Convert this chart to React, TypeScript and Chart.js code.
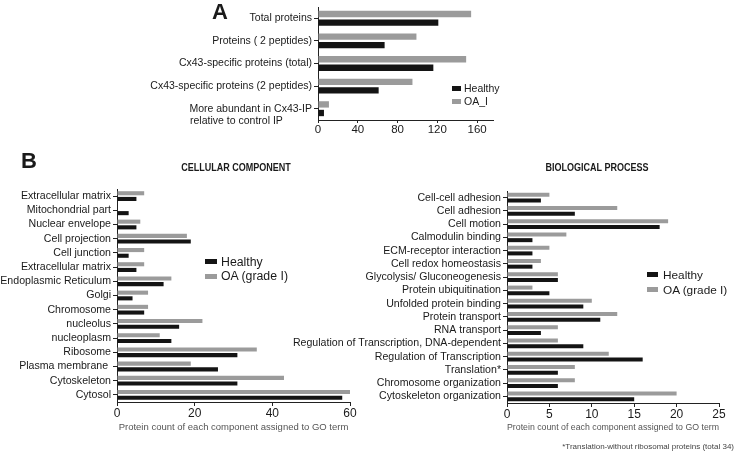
import React, { useEffect, useRef } from 'react';
import { Chart, registerables } from 'chart.js';

Chart.register(...registerables);

const FONT = '"Liberation Sans", Arial, Helvetica, sans-serif';
const BLACK = '#141414';
const GRAY = '#9b9b9b';
const TEXT = '#1a1a1a';

// ---- Panel A ----
const aCategories: (string | string[])[] = [
  'Total proteins',
  'Proteins ( 2 peptides)',
  'Cx43-specific proteins (total)',
  'Cx43-specific proteins (2 peptides)',
  ['', 'More abundant in Cx43-IP', 'relative to control IP          '],
];
const aHealthy = [121, 67, 116, 61, 6];
const aOA = [154, 99, 149, 95, 11];
const aSeriesNames = ['Healthy', 'OA_I'];

// ---- Panel B: cellular component ----
const ccCategories = [
  'Extracellular matrix',
  'Mitochondrial part',
  'Nuclear envelope',
  'Cell projection',
  'Cell junction',
  'Extracellular matrix',
  'Endoplasmic Reticulum',
  'Golgi',
  'Chromosome',
  'nucleolus',
  'nucleoplasm',
  'Ribosome',
  'Plasma membrane ',
  'Cytoskeleton',
  'Cytosol',
];
const ccHealthy = [5, 3, 5, 19, 3, 5, 12, 4, 7, 16, 14, 31, 26, 31, 58];
const ccOA = [7, 0, 6, 18, 7, 7, 14, 8, 8, 22, 11, 36, 19, 43, 60];

// ---- Panel B: biological process ----
const bpCategories = [
  'Cell-cell adhesion',
  'Cell adhesion',
  'Cell motion',
  'Calmodulin binding',
  'ECM-receptor interaction',
  'Cell redox homeostasis',
  'Glycolysis/ Gluconeogenesis',
  'Protein ubiquitination',
  'Unfolded protein binding',
  'Protein transport',
  'RNA transport',
  'Regulation of Transcription, DNA-dependent',
  'Regulation of Transcription',
  'Translation*',
  'Chromosome organization',
  'Cytoskeleton organization',
];
const bpHealthy = [4, 8, 18, 3, 3, 3, 6, 5, 9, 11, 4, 9, 16, 6, 6, 15];
const bpOA = [5, 13, 19, 7, 5, 4, 6, 3, 10, 13, 6, 6, 12, 8, 8, 20];

const bSeriesNames = ['Healthy', 'OA (grade I)'];
const bAxisTitle = 'Protein count of each component assigned to GO term';
const footnote = '*Translation-without ribosomal proteins (total 34)';

type HBarProps = {
  left: number;
  top: number;
  width: number;
  height: number;
  labels: (string | string[])[];
  healthy: number[];
  oa: number[];
  names: string[];
  yWidth: number;
  xHeight: number;
  padTop: number;
  padRight: number;
  xMax: number;
  xStep: number;
  catPct: number;
  barPct: number;
  labelSize: number;
  tickSize: number;
  xTickLen: number;
  xTitle?: string;
};

function HBar(p: HBarProps) {
  const ref = useRef<HTMLCanvasElement | null>(null);
  useEffect(() => {
    if (!ref.current) return;
    const chart = new Chart(ref.current, {
      type: 'bar',
      data: {
        labels: p.labels,
        datasets: [
          {
            label: p.names[1],
            data: p.oa,
            backgroundColor: GRAY,
            categoryPercentage: p.catPct,
            barPercentage: p.barPct,
          },
          {
            label: p.names[0],
            data: p.healthy,
            backgroundColor: BLACK,
            categoryPercentage: p.catPct,
            barPercentage: p.barPct,
          },
        ],
      },
      options: {
        indexAxis: 'y',
        responsive: false,
        animation: false,
        layout: { padding: { top: p.padTop, right: p.padRight, left: 0, bottom: 0 } },
        plugins: { legend: { display: false }, tooltip: { enabled: false }, title: { display: false } },
        scales: {
          y: {
            type: 'category',
            grid: { display: true, drawOnChartArea: false, drawTicks: true, tickLength: 4, color: '#222', offset: false },
            border: { display: true, color: '#222', width: 1 },
            ticks: { autoSkip: false, padding: 2, color: TEXT, font: { family: FONT, size: p.labelSize } },
            afterFit: (s: any) => {
              s.width = p.yWidth;
              s.paddingTop = 0;
              s.paddingBottom = 0;
            },
          },
          x: {
            type: 'linear',
            min: 0,
            max: p.xMax,
            grid: { display: true, drawOnChartArea: false, drawTicks: true, tickLength: p.xTickLen, color: '#222' },
            border: { display: true, color: '#222', width: 1 },
            ticks: { stepSize: p.xStep, includeBounds: false, padding: 0, color: TEXT, font: { family: FONT, size: p.tickSize } },
            title: p.xTitle
              ? { display: true, text: p.xTitle, color: '#555', font: { family: FONT, size: 9.5 }, padding: { top: 0, bottom: 7 } }
              : { display: false },
            afterFit: (s: any) => {
              s.height = p.xHeight;
              s.paddingLeft = 0;
              s.paddingRight = 0;
            },
          },
        },
      },
    } as any);
    return () => chart.destroy();
  }, []);
  return (
    <canvas
      ref={ref}
      width={p.width}
      height={p.height}
      style={{ position: 'absolute', left: p.left, top: p.top, width: p.width, height: p.height }}
    />
  );
}

function LegendRow(props: { left: number; top: number; color: string; text: string; size: number; sw: number; sh: number; gap: number }) {
  const { left, top, color, text, size, sw, sh, gap } = props;
  return (
    <div style={{ position: 'absolute', left, top: top - size * 0.6, height: size * 1.2, display: 'flex', alignItems: 'center', fontFamily: FONT, fontSize: size, color: TEXT, whiteSpace: 'nowrap', lineHeight: 1.2 }}>
      <span style={{ display: 'inline-block', width: sw, height: sh, background: color, marginRight: gap }} />
      <span>{text}</span>
    </div>
  );
}

function Label(props: { left?: number; right?: number; top: number; size: number; bold?: boolean; color?: string; text: string; scaleX?: number; center?: number }) {
  const { top, size, bold, color, text, scaleX, center } = props;
  const style: any = {
    position: 'absolute',
    top: top - size * 0.6,
    lineHeight: 1.2,
    fontFamily: FONT,
    fontSize: size,
    fontWeight: bold ? 'bold' : 'normal',
    color: color || TEXT,
    whiteSpace: 'nowrap',
  };
  if (center !== undefined) {
    style.left = center;
    style.transform = `translateX(-50%) scaleX(${scaleX || 1})`;
  } else if (props.right !== undefined) {
    style.right = props.right;
  } else {
    style.left = props.left;
  }
  return <div style={style}>{text}</div>;
}

export default function App() {
  return (
    <div style={{ position: 'absolute', left: 0, top: 0, width: 740, height: 455, background: '#fff', overflow: 'hidden' }}>
      <HBar
        left={0}
        top={0}
        width={520}
        height={140}
        labels={aCategories}
        healthy={aHealthy}
        oa={aOA}
        names={aSeriesNames}
        yWidth={318}
        xHeight={20}
        padTop={7}
        padRight={27}
        xMax={176}
        xStep={40}
        catPct={0.76}
        barPct={0.74}
        labelSize={10.5}
        tickSize={11.5}
        xTickLen={3}
      />
      <HBar
        left={0}
        top={160}
        width={370}
        height={280}
        labels={ccCategories}
        healthy={ccHealthy}
        oa={ccOA}
        names={bSeriesNames}
        yWidth={117}
        xHeight={38}
        padTop={29}
        padRight={20}
        xMax={60}
        xStep={20}
        catPct={0.8}
        barPct={0.72}
        labelSize={10.6}
        tickSize={12}
        xTickLen={4}
        xTitle={bAxisTitle}
      />
      <HBar
        left={280}
        top={160}
        width={460}
        height={280}
        labels={bpCategories}
        healthy={bpHealthy}
        oa={bpOA}
        names={bSeriesNames}
        yWidth={227}
        xHeight={37}
        padTop={31}
        padRight={21}
        xMax={25}
        xStep={5}
        catPct={0.84}
        barPct={0.72}
        labelSize={10.6}
        tickSize={12}
        xTickLen={4}
        xTitle={bAxisTitle}
      />

      <Label left={212} top={12} size={22} bold text="A" />
      <Label left={21} top={161} size={22} bold text="B" />
      <Label center={236} top={168} size={11} bold scaleX={0.82} text="CELLULAR COMPONENT" />
      <Label center={597} top={168} size={11} bold scaleX={0.82} text="BIOLOGICAL PROCESS" />

      <LegendRow left={452} top={88.5} color={BLACK} text={aSeriesNames[0]} size={10.5} sw={9} sh={5} gap={3} />
      <LegendRow left={452} top={101.5} color={GRAY} text={aSeriesNames[1]} size={10.5} sw={9} sh={5} gap={3} />

      <LegendRow left={205} top={262} color={BLACK} text={bSeriesNames[0]} size={12.3} sw={12} sh={5} gap={4} />
      <LegendRow left={205} top={276.5} color={GRAY} text={bSeriesNames[1]} size={12.3} sw={12} sh={5} gap={4} />

      <LegendRow left={647} top={275} color={BLACK} text={bSeriesNames[0]} size={11.8} sw={11} sh={5} gap={5} />
      <LegendRow left={647} top={290} color={GRAY} text={bSeriesNames[1]} size={11.8} sw={11} sh={5} gap={5} />

      <Label right={6} top={447} size={8} color="#444" text={footnote} />
    </div>
  );
}
